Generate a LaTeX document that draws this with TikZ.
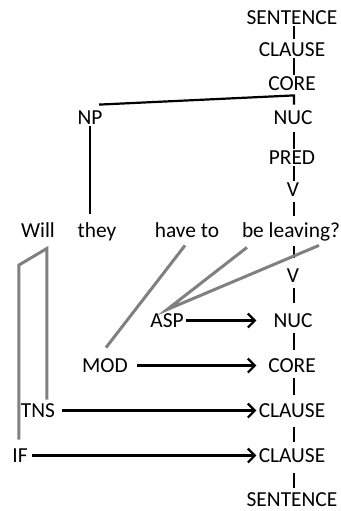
\documentclass[tikz,border=0pt]{standalone}
\usepackage{fontspec}
\setmainfont{Carlito}
\usetikzlibrary{calc,arrows.meta}
\begin{document}
\begin{tikzpicture}[x=0.5pt,y=-0.5pt,
  lab/.style={anchor=base,inner sep=1pt,text height=6.5pt,text depth=0pt,font=\fontsize{10.7pt}{12pt}\selectfont},
  word/.style={anchor=base,inner sep=1pt,text height=7pt,text depth=2.5pt,font=\fontsize{10.7pt}{12pt}\selectfont},
  tree/.style={line width=1.1pt,black},
  link/.style={line width=1.5pt,color={rgb,255:red,128;green,128;blue,128}},
  opr/.style={line width=1.1pt,black,-{Straight Barb[length=3.5pt,width=7pt,line width=1.1pt]}}]
\useasboundingbox (0,0) rectangle (341,511);
\coordinate (col) at (294,0);
% right column
\node[lab] (s1) at (292,24) {SENTENCE};
\node[lab] (c1) at (292,56) {CLAUSE};
\node[lab] (co1) at (292,90) {CORE};
\node[lab] (np) at (90,124) {NP};
\node[lab] (nuc1) at (293,124) {NUC};
\node[lab] (pred) at (292,164) {PRED};
\node[lab] (v1) at (293,196) {V};
\node[word] (will) at (38,237) {Will};
\node[word] (they) at (97,237) {they};
\node[word] (ht) at (187,237) {have to};
\node[word] (bl) at (291,237) {be leaving?};
\node[lab] (v2) at (293,282) {V};
\node[lab] (asp) at (167,327) {ASP};
\node[lab] (nuc2) at (293,327) {NUC};
\node[lab] (mod) at (105,372) {MOD};
\node[lab] (co2) at (292,372) {CORE};
\node[lab] (tns) at (38,417) {TNS};
\node[lab] (c2) at (292,417) {CLAUSE};
\node[lab] (iff) at (20,462) {IF};
\node[lab] (c3) at (292,462) {CLAUSE};
\node[lab] (s2) at (292,506) {SENTENCE};
% upper tree
\draw[tree,shorten >=1pt] (s1.south -| col) -- (c1.north -| col);
\draw[tree] (c1.south -| col) -- (co1.north -| col);
\coordinate (cj) at ($(co1.south -| col)+(0,3)$);
\draw[tree] ($(np.north)+(9,-4)$) -- (cj) -- ($(nuc1.north -| col)+(0,-4)$);
\draw[tree,shorten >=3.5pt] (np.south) -- (np.south |- they.north);
\draw[tree,shorten <=3pt] (nuc1.south -| col) -- (pred.north -| col);
\draw[tree] (pred.south -| col) -- (v1.north -| col);
\draw[tree,shorten <=2pt,shorten >=2.5pt] (v1.south -| col) -- (bl.north -| col);
% lower tree
\draw[tree,shorten <=1pt,shorten >=4.5pt] (bl.south -| col) -- (v2.north -| col);
\draw[tree,shorten <=2pt,shorten >=4.5pt] (v2.south -| col) -- (nuc2.north -| col);
\draw[tree,shorten <=2pt,shorten >=3.5pt] (nuc2.south -| col) -- (co2.north -| col);
\draw[tree,shorten <=2pt,shorten >=3.5pt] (co2.south -| col) -- (c2.north -| col);
\draw[tree,shorten <=4pt,shorten >=2.5pt] (c2.south -| col) -- (c3.north -| col);
\draw[tree,shorten <=4.5pt,shorten >=1.5pt] (c3.south -| col) -- (s2.north -| col);
% operator links
\draw[link] ($(ht.south)+(-2,1)$) -- ($(mod.north)+(1,-9)$);
\draw[link] ($(bl.south)+(-44,3)$) -- ($(asp.north)+(0,-2)$) -- ($(bl.south)+(28,1)$);
\coordinate (wb) at (19,265);
\draw[link] ($(iff.north)+(-1,-7)$) -- (wb) -- ($(will.south)+(9,4)$) -- ($(tns.north)+(9,-2)$);
% operator arrows
\draw[opr] (asp.east) -- (asp.east -| c2.west);
\draw[opr] ($(mod.east)+(7,0)$) -- (mod.east -| c2.west);
\draw[opr] ($(tns.east)+(5,0)$) -- (tns.east -| c2.west);
\draw[opr] ($(iff.east)+(2,0)$) -- (iff.east -| c2.west);
\end{tikzpicture}
\end{document}
